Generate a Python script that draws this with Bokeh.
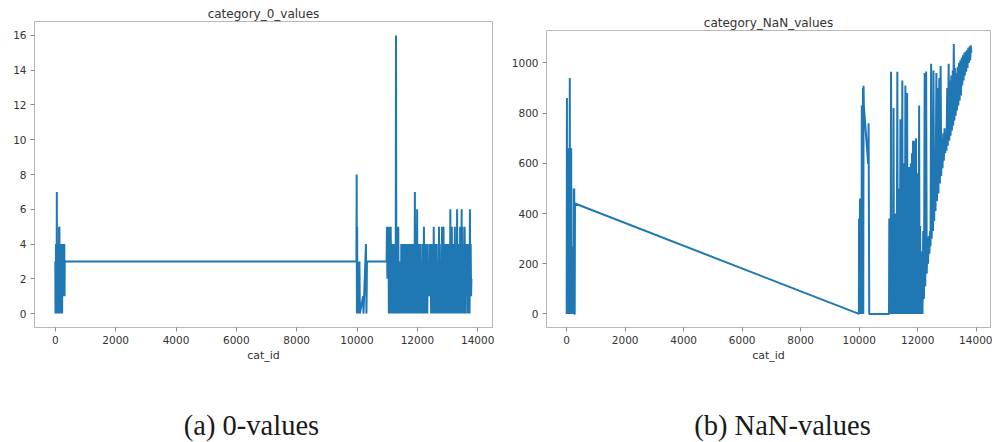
from bokeh.plotting import figure
from bokeh.layouts import column, row
from bokeh.models import Range1d, FixedTicker
from bokeh.core.properties import value
from bokeh.embed import file_html
from bokeh.resources import INLINE

# ---- category_0_values: count of zero values per cat_id ----
zero_ids_head = [0, 6, 12, 18, 24, 30, 36, 42, 50, 56, 62, 68, 74, 80, 86, 94,
                 100, 106, 112, 118, 124, 130, 136, 142, 148, 154, 160, 166, 172, 178, 184, 190,
                 196, 202, 210, 218, 226, 234, 242, 250, 258, 266, 274, 282, 290, 298, 306, 312]
zero_vals_head = [3, 0, 3, 0, 4, 0, 3, 0, 7, 0, 4, 0, 4, 0, 3, 0,
                  4, 0, 4, 0, 5, 0, 5, 1, 4, 0, 4, 1, 4, 0, 4, 2,
                  4, 2, 4, 2, 0, 3, 2, 4, 1, 4, 1, 4, 1, 4, 1, 3]

zero_ids_mid = [9980, 9988, 9996, 10004, 10012, 10020, 10030, 10040, 10050, 10060,
                10070, 10080, 10094, 10200, 10215, 10295, 10312, 10330]
zero_vals_mid = [3, 8, 0, 5, 0, 3, 0, 3, 0, 3,
                 1, 3, 0, 1, 0, 4, 0, 3]

zero_ids_tail = [10980, 10992, 11005, 11017, 11030, 11042, 11055, 11067, 11080, 11092,
                 11105, 11117, 11130, 11142, 11155, 11167, 11180, 11192, 11205, 11217,
                 11230, 11242, 11255, 11267, 11280, 11292, 11305, 11317, 11330, 11342,
                 11355, 11367, 11380, 11392, 11405, 11417, 11430, 11442, 11455, 11467,
                 11480, 11492, 11505, 11517, 11530, 11542, 11555, 11567, 11580, 11592,
                 11605, 11617, 11630, 11642, 11655, 11667, 11680, 11692, 11705, 11717,
                 11730, 11742, 11755, 11767, 11780, 11792, 11805, 11817, 11830, 11842,
                 11855, 11867, 11880, 11892, 11905, 11917, 11930, 11942, 11955, 11967,
                 11980, 11992, 12005, 12017, 12030, 12042, 12055, 12067, 12080, 12092,
                 12105, 12117, 12130, 12142, 12155, 12167, 12180, 12192, 12205, 12217,
                 12230, 12242, 12255, 12267, 12280, 12292, 12305, 12317, 12330, 12342,
                 12355, 12367, 12380, 12392, 12405, 12417, 12430, 12442, 12455, 12467,
                 12480, 12492, 12505, 12517, 12530, 12542, 12555, 12567, 12580, 12592,
                 12605, 12617, 12630, 12642, 12655, 12667, 12680, 12692, 12705, 12717,
                 12730, 12742, 12755, 12767, 12780, 12792, 12805, 12817, 12830, 12842,
                 12855, 12867, 12880, 12892, 12905, 12917, 12930, 12942, 12955, 12967,
                 12980, 12992, 13005, 13017, 13030, 13042, 13055, 13067, 13080, 13092,
                 13105, 13117, 13130, 13142, 13155, 13167, 13180, 13192, 13205, 13217,
                 13230, 13242, 13255, 13267, 13280, 13292, 13305, 13317, 13330, 13342,
                 13355, 13367, 13380, 13392, 13405, 13417, 13430, 13442, 13455, 13467,
                 13480, 13492, 13505, 13517, 13530, 13542, 13555, 13567, 13580, 13592,
                 13605, 13617, 13630, 13642, 13655, 13667, 13680, 13692, 13705, 13717,
                 13730, 13742, 13755, 13767, 13780, 13792]
zero_vals_tail = [3, 5, 2, 5, 2, 5, 0, 5, 0, 4,
                  0, 5, 0, 4, 0, 4, 0, 4, 1, 4,
                  0, 4, 0, 4, 0, 16, 0, 3, 0, 5,
                  0, 5, 0, 3, 0, 3, 0, 3, 0, 4,
                  0, 4, 0, 4, 0, 4, 0, 4, 0, 4,
                  0, 4, 1, 4, 0, 4, 0, 4, 0, 4,
                  0, 4, 0, 4, 0, 4, 0, 4, 0, 4,
                  0, 4, 0, 4, 0, 7, 0, 4, 0, 4,
                  0, 6, 0, 4, 0, 4, 0, 3, 0, 4,
                  0, 3, 0, 3, 0, 4, 0, 4, 0, 5,
                  1, 4, 0, 4, 0, 3, 0, 4, 0, 3,
                  1, 3, 1, 4, 1, 4, 1, 3, 0, 4,
                  0, 3, 0, 4, 0, 5, 0, 4, 0, 4,
                  0, 4, 0, 3, 0, 3, 0, 4, 0, 5,
                  0, 4, 0, 3, 0, 3, 0, 5, 0, 4,
                  0, 5, 0, 4, 0, 4, 1, 4, 0, 4,
                  0, 3, 0, 4, 0, 4, 0, 4, 0, 6,
                  0, 4, 0, 5, 0, 4, 1, 4, 0, 4,
                  0, 5, 0, 4, 0, 4, 0, 6, 0, 4,
                  0, 4, 0, 4, 0, 5, 0, 4, 0, 6,
                  0, 5, 0, 4, 0, 4, 0, 5, 0, 4,
                  0, 4, 1, 4, 1, 4, 0, 4, 0, 4,
                  0, 6, 1, 4, 1, 2]

# ---- category_NaN_values: count of missing values per cat_id ----
nan_ids_head = [0, 8, 14, 20, 26, 32, 38, 44, 50, 56,
                62, 68, 74, 80, 86, 92, 98, 106, 112, 118,
                124, 130, 136, 142, 148, 154, 160, 166, 172, 178,
                184, 190, 196, 202, 210, 218, 226, 234, 242, 250,
                258, 266, 274, 284]
nan_vals_head = [0, 860, 0, 660, 0, 660, 0, 660, 0, 660,
                 0, 660, 0, 660, 0, 660, 0, 940, 0, 660,
                 0, 660, 0, 660, 0, 660, 180, 0, 270, 0,
                 270, 0, 270, 0, 270, 0, 270, 0, 500, 0,
                 500, 0, 0, 440]

nan_ids_mid = [9990, 9996, 10004, 10012, 10020, 10030, 10040, 10050, 10060, 10070,
               10080, 10090, 10100, 10110, 10120, 10130, 10140, 10150, 10160, 10307,
               10322, 10345]
nan_vals_mid = [0, 380, 0, 380, 0, 460, 0, 460, 0, 380,
                0, 830, 0, 830, 0, 900, 0, 909, 830, 598,
                760, 0]

nan_ids_tail = [11020, 11030, 11045, 11060, 11075, 11090, 11105, 11120, 11135, 11150,
                11165, 11175, 11190, 11205, 11220, 11235, 11250, 11265, 11280, 11305,
                11320, 11340, 11355, 11375, 11390, 11410, 11425, 11440, 11455, 11475,
                11490, 11510, 11525, 11545, 11560, 11580, 11595, 11610, 11625, 11640,
                11655, 11670, 11685, 11700, 11715, 11735, 11750, 11770, 11785, 11805,
                11820, 11840, 11855, 11875, 11890, 11910, 11925, 11945, 11960, 11980,
                11995, 12015, 12030, 12050, 12065, 12085, 12100, 12120, 12135, 12150,
                12165, 12190, 12215, 12240, 12260, 12290, 12310, 12335, 12355, 12380,
                12400, 12425, 12440, 12460, 12480, 12505, 12525, 12540, 12565, 12590,
                12610, 12640, 12660, 12690, 12710, 12740, 12760, 12785, 12805, 12830,
                12850, 12875, 12895, 12920, 12940, 12965, 12985, 13010, 13030, 13060,
                13080, 13105, 13125, 13150, 13170, 13200, 13215, 13235, 13255, 13280,
                13300, 13325, 13345, 13370, 13390, 13415, 13435, 13460, 13480, 13505,
                13525, 13550, 13570, 13595, 13615, 13640, 13660, 13685, 13705, 13730,
                13750, 13775, 13795, 13815, 13835]
nan_vals_tail = [0, 380, 0, 380, 0, 965, 0, 380, 0, 360,
                 0, 820, 0, 360, 0, 400, 0, 360, 0, 965,
                 0, 500, 0, 360, 0, 775, 0, 600, 0, 930,
                 0, 560, 0, 600, 0, 910, 0, 600, 0, 880,
                 0, 500, 0, 585, 0, 560, 0, 600, 0, 640,
                 0, 690, 0, 600, 0, 690, 0, 700, 0, 560,
                 0, 400, 0, 830, 0, 350, 0, 250, 0, 200,
                 0, 330, 60, 960, 110, 966, 160, 300, 200, 310,
                 240, 330, 270, 997, 300, 600, 330, 970, 370, 640,
                 410, 960, 450, 900, 480, 940, 520, 988, 550, 700,
                 580, 720, 610, 740, 640, 700, 650, 900, 670, 997,
                 690, 930, 710, 950, 730, 970, 750, 1075, 770, 980,
                 790, 960, 810, 985, 830, 1000, 850, 1010, 870, 1020,
                 910, 1030, 930, 1040, 950, 1045, 965, 1050, 980, 1060,
                 1000, 1065, 1010, 1070, 1040]

x_ticks = [0, 2000, 4000, 6000, 8000, 10000, 12000, 14000]
zero_ticks = [0, 2, 4, 6, 8, 10, 12, 14, 16]
nan_ticks = [0, 200, 400, 600, 800, 1000]
captions = ["(a) 0-values", "(b) NaN-values"]

LINE = "#1f77b4"
FRAME = "#b8b8b8"
TEXT = "#333333"


def panel(title, ids, vals, y_lo, y_hi, yticks, left, right, top):
    p = figure(width=496, height=382, output_backend="svg", toolbar_location=None,
               x_range=Range1d(-690, 14490), y_range=Range1d(y_lo, y_hi),
               min_border_left=left, min_border_right=right,
               min_border_top=top, min_border_bottom=55)
    p.line(ids, vals, line_color=LINE, line_width=2.0)

    p.title.text = title
    p.title.align = "center"
    p.title.text_font = "DejaVu Sans"
    p.title.text_font_size = "12px"
    p.title.text_font_style = "normal"
    p.title.text_color = TEXT
    p.title.standoff = 1

    p.xgrid.visible = False
    p.ygrid.visible = False
    p.outline_line_color = FRAME
    p.outline_line_width = 1
    p.background_fill_color = "white"
    p.border_fill_color = "white"

    p.xaxis.ticker = FixedTicker(ticks=x_ticks)
    p.yaxis.ticker = FixedTicker(ticks=yticks)
    p.xaxis.axis_label = "cat_id"
    p.xaxis.axis_label_text_font = "DejaVu Sans"
    p.xaxis.axis_label_text_font_size = "11px"
    p.xaxis.axis_label_text_font_style = "normal"
    p.xaxis.axis_label_text_color = TEXT
    p.xaxis.axis_label_standoff = 2
    for ax in (p.xaxis, p.yaxis):
        ax.axis_line_color = None
        ax.major_tick_line_color = "#888888"
        ax.major_tick_in = 0
        ax.major_tick_out = 4
        ax.minor_tick_line_color = None
        ax.major_label_text_font = "DejaVu Sans"
        ax.major_label_text_font_size = "10.5px"
        ax.major_label_text_color = TEXT
        ax.major_label_standoff = 4
    return p


p1 = panel("category_0_values",
           zero_ids_head + zero_ids_mid + zero_ids_tail,
           zero_vals_head + zero_vals_mid + zero_vals_tail,
           -0.8, 16.8, zero_ticks, left=34, right=4, top=21)
p2 = panel("category_NaN_values",
           nan_ids_head + nan_ids_mid + nan_ids_tail,
           nan_vals_head + nan_vals_mid + nan_vals_tail,
           -54, 1129, nan_ticks, left=50, right=2, top=30)

# sub-figure captions underneath both panels
cap = figure(width=992, height=60, output_backend="svg", toolbar_location=None,
             x_range=Range1d(0, 992), y_range=Range1d(0, 60),
             min_border=0)
cap.axis.visible = False
cap.grid.visible = False
cap.outline_line_color = None
cap.text(x=[251, 782], y=[17, 17], text=captions,
         text_font=value("Liberation Serif"), text_font_size="28.5px",
         text_align="center", text_baseline="middle", text_color="#1a1a1a")

# each panel sits in its own column so the two frames are laid out independently
layout = column(row(column(p1), column(p2)), cap)
open("out.html", "w").write(file_html(layout, INLINE))
